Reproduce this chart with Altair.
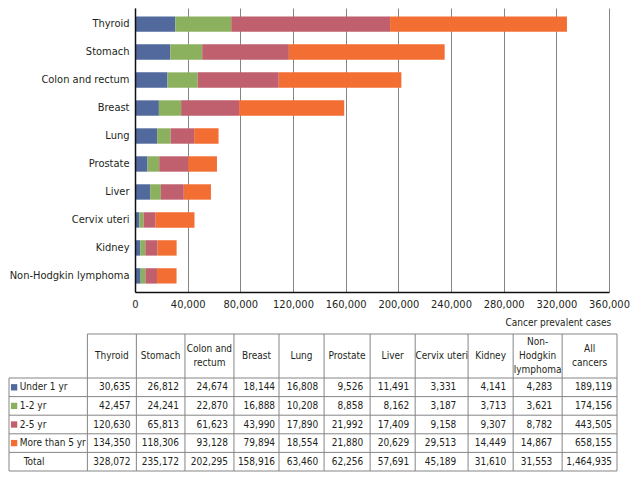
import altair as alt
import pandas as pd

# ---------------- data ----------------
cancers = ["Thyroid", "Stomach", "Colon and rectum", "Breast", "Lung", "Prostate",
           "Liver", "Cervix uteri", "Kidney", "Non-Hodgkin lymphoma"]
groups = ["Under 1 yr", "1-2 yr", "2-5 yr", "More than 5 yr"]
under_1yr = [30635, 26812, 24674, 18144, 16808, 9526, 11491, 3331, 4141, 4283]
yr_1_2 = [42457, 24241, 22870, 16888, 10208, 8858, 8162, 3187, 3713, 3621]
yr_2_5 = [120630, 65813, 61623, 43990, 17890, 21992, 17409, 9158, 9307, 8782]
over_5yr = [134350, 118306, 93128, 79894, 18554, 21880, 20629, 29513, 14449, 14867]
totals = [328072, 235172, 202295, 158916, 63460, 62256, 57691, 45189, 31610, 31553]
all_cancers = [189119, 174156, 443505, 658155]
all_total = 1464935
table_headers = ["Thyroid", "Stomach", "Colon and\nrectum", "Breast", "Lung", "Prostate",
                 "Liver", "Cervix uteri", "Kidney", "Non-\nHodgkin\nlymphoma", "All\ncancers"]
total_label = "Total"
caption = "Cancer prevalent cases"
x_ticks = [0, 40000, 80000, 120000, 160000, 200000, 240000, 280000, 320000, 360000]

# ---------------- style / layout ----------------
colors = ["#51699c", "#8bb05e", "#c05f6d", "#f36e33"]
FONT = "DejaVu Sans Condensed, Liberation Sans Narrow, sans-serif"
TXT = "#231f20"
LINE = "#858585"
PLOT_W = 474
PLOT_H = 284
LEFT_EXT = 126          # room left of the plot used by the y labels / table
TABLE_RIGHT = 482       # table right edge, px from plot origin
col_widths = [80, 50, 49.6, 50, 46, 46, 47, 46, 54, 46, 50, 56]
num_pad = [6, 6, 6, 4, 6, 7, 6, 12, 7, 10, 5]
cap_y = 6
table_top = 17
header_h = 44
row_h = 18.6
table_units = 156
TFS = 10
HDR_LH = 14

# ---------------- bar chart ----------------
series = [under_1yr, yr_1_2, yr_2_5, over_5yr]
rows = []
for gi, (g, vals) in enumerate(zip(groups, series)):
    for c, v in zip(cancers, vals):
        rows.append({"cancer": c, "group": g, "order": gi, "value": v})
bar_df = pd.DataFrame(rows)

color_scale = alt.Scale(domain=groups, range=colors)

bars = alt.Chart(bar_df).mark_bar().encode(
    x=alt.X("value:Q", stack="zero",
            scale=alt.Scale(domain=[0, 360000], nice=False),
            axis=alt.Axis(title=None, values=x_ticks, format=",.0f", grid=True,
                          gridColor=LINE, gridWidth=1, domainColor="#111",
                          domainWidth=1.5, ticks=False, labelPadding=6,
                          labelFontSize=11, labelFont=FONT, labelColor=TXT,
                          labelOverlap=False, labelFlush=False)),
    y=alt.Y("cancer:N", sort=cancers,
            scale=alt.Scale(paddingInner=0.45, paddingOuter=0.3),
            axis=alt.Axis(title=None, ticks=False, domainColor="#111",
                          domainWidth=1.5, labelPadding=6, labelFontSize=11,
                          labelFont=FONT, labelColor=TXT, zindex=1)),
    color=alt.Color("group:N", scale=color_scale, legend=None),
    order=alt.Order("order:Q"),
).properties(width=PLOT_W, height=PLOT_H)

# ---------------- table ----------------
edges = [0]
for w in col_widths:
    edges.append(edges[-1] + w)
right = edges[-1]
hy = [table_top + header_h + i * row_h for i in range(6)]

lines = [{"x": edges[1], "x2": right, "y": table_top, "y2": table_top}]
for yv in hy:
    lines.append({"x": 0, "x2": right, "y": yv, "y2": yv})
lines.append({"x": 0, "x2": 0, "y": hy[0], "y2": hy[-1]})
for xv in edges[1:]:
    lines.append({"x": xv, "x2": xv, "y": table_top, "y2": hy[-1]})
lines_df = pd.DataFrame(lines)

xs = alt.Scale(domain=[0, right], range=[-LEFT_EXT, TABLE_RIGHT], nice=False, zero=False)
ys = alt.Scale(domain=[0, table_units], reverse=True, nice=False, zero=False)

rules = alt.Chart(lines_df).mark_rule(color=LINE, strokeWidth=1).encode(
    x=alt.X("x:Q", scale=xs, axis=None), x2="x2:Q",
    y=alt.Y("y:Q", scale=ys, axis=None), y2="y2:Q")

hdr_mid = table_top + header_h / 2
hdr_df = pd.DataFrame({
    "t": table_headers,
    "x": [(edges[i + 1] + edges[i + 2]) / 2 for i in range(len(table_headers))],
    "y": [hdr_mid - (h.count("\n")) * HDR_LH / 2 for h in table_headers]})
hdr = alt.Chart(hdr_df).mark_text(align="center", baseline="middle", font=FONT,
                                  fontSize=TFS, color=TXT, lineBreak="\n",
                                  lineHeight=HDR_LH).encode(
    x=alt.X("x:Q", scale=xs, axis=None), y=alt.Y("y:Q", scale=ys, axis=None), text="t:N")

row_centers = [(hy[i] + hy[i + 1]) / 2 for i in range(5)]
lab_df = pd.DataFrame({
    "t": groups + [total_label],
    "x": [11, 11, 11, 11, 15],
    "y": row_centers})
labs = alt.Chart(lab_df).mark_text(align="left", baseline="middle", font=FONT,
                                   fontSize=TFS, color=TXT).encode(
    x=alt.X("x:Q", scale=xs, axis=None), y=alt.Y("y:Q", scale=ys, axis=None), text="t:N")

sq_df = pd.DataFrame({"group": groups, "x": [5.2] * 4, "y": row_centers[:4]})
squares = alt.Chart(sq_df).mark_square(size=40, opacity=1).encode(
    x=alt.X("x:Q", scale=xs, axis=None), y=alt.Y("y:Q", scale=ys, axis=None),
    color=alt.Color("group:N", scale=color_scale, legend=None))

table_rows = [s + [a] for s, a in zip(series, all_cancers)] + [totals + [all_total]]
num = []
for r, vals in enumerate(table_rows):
    for j, v in enumerate(vals):
        num.append({"t": f"{v:,}", "x": edges[j + 2] - num_pad[j], "y": row_centers[r]})
num_df = pd.DataFrame(num)
nums = alt.Chart(num_df).mark_text(align="right", baseline="middle", font=FONT,
                                   fontSize=TFS, color=TXT).encode(
    x=alt.X("x:Q", scale=xs, axis=None), y=alt.Y("y:Q", scale=ys, axis=None), text="t:N")

cap_df = pd.DataFrame({"t": [caption], "x": [right - 6], "y": [cap_y]})
cap = alt.Chart(cap_df).mark_text(align="right", baseline="middle", font=FONT,
                                  fontSize=TFS, color=TXT).encode(
    x=alt.X("x:Q", scale=xs, axis=None), y=alt.Y("y:Q", scale=ys, axis=None), text="t:N")

table = alt.layer(rules, squares, hdr, labs, nums, cap).properties(
    width=PLOT_W, height=table_units)

chart = alt.vconcat(bars, table, spacing=8).properties(padding=0).configure_view(stroke=None)

chart.save("out.html", embed_options={"renderer": "svg", "actions": False})
